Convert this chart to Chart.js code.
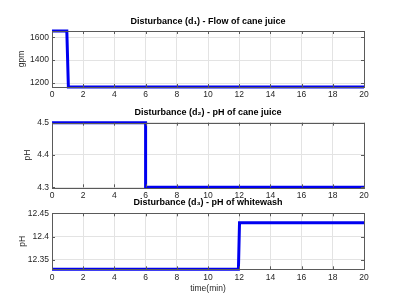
<!DOCTYPE html>
<html>
<head>
<meta charset="utf-8">
<script src="https://cdn.jsdelivr.net/npm/chart.js@4.4.1/dist/chart.umd.min.js"></script>
<style>
  html, body { margin: 0; padding: 0; background: #fff; }
  body { width: 403px; height: 302px; position: relative; overflow: hidden; }
  canvas { position: absolute; left: 0; }
</style>
</head>
<body>
<canvas id="c1" width="403" height="100" style="top:0px"></canvas>
<canvas id="c2" width="403" height="100" style="top:100px"></canvas>
<canvas id="c3" width="403" height="112" style="top:190px"></canvas>
<script>
// data
const xTicks = [0, 2, 4, 6, 8, 10, 12, 14, 16, 18, 20];

const time1 = [0, 0.95, 1.05, 20];
const flowCane = [1655, 1655, 1165, 1165];
const yTicks1 = [1200, 1400, 1600];

const time2 = [0, 6, 6, 20];
const phCane = [4.5, 4.5, 4.3, 4.3];
const yTicks2 = [4.3, 4.4, 4.5];

const time3 = [0, 11.95, 12.02, 20];
const phWhite = [12.33, 12.33, 12.43, 12.43];
const yTicks3 = [12.35, 12.4, 12.45];

const FONT = "'Liberation Sans', Arial, sans-serif";
Chart.defaults.font.family = FONT;
Chart.defaults.color = '#262626';

// box around the axes + inward tick marks, matlab style
const boxPlugin = {
    id: 'box',
    afterDraw(chart) {
        const { ctx, chartArea: a, scales } = chart;
        ctx.save();
        ctx.strokeStyle = '#5a5a5a';
        ctx.lineWidth = 1;
        ctx.strokeRect(Math.round(a.left) + 0.5, Math.round(a.top) + 0.5,
            Math.round(a.right - a.left), Math.round(a.bottom - a.top));
        ctx.beginPath();
        scales.x.ticks.forEach(t => {
            const px = Math.round(scales.x.getPixelForValue(t.value)) + 0.5;
            ctx.moveTo(px, a.bottom); ctx.lineTo(px, a.bottom - 3);
            ctx.moveTo(px, a.top); ctx.lineTo(px, a.top + 3);
        });
        scales.y.ticks.forEach(t => {
            const py = Math.round(scales.y.getPixelForValue(t.value)) + 0.5;
            ctx.moveTo(a.left, py); ctx.lineTo(a.left + 3, py);
            ctx.moveTo(a.right, py); ctx.lineTo(a.right - 3, py);
        });
        ctx.stroke();
        ctx.restore();
    }
};

function makePlot(id, xs, ys, yMin, yMax, yTicks, o) {
    const pts = xs.map((x, i) => ({ x: x, y: ys[i] }));
    return new Chart(document.getElementById(id), {
        type: 'line',
        data: {
            datasets: [{
                data: pts,
                borderColor: '#0000f0',
                borderWidth: 3,
                pointRadius: 0,
                fill: false,
                tension: 0,
                clip: 4
            }]
        },
        options: {
            responsive: false,
            animation: false,
            devicePixelRatio: 1,
            layout: { padding: { left: 0, right: 39, top: 0, bottom: 0 } },
            plugins: {
                legend: { display: false },
                tooltip: { enabled: false }
            },
            scales: {
                // top axis only carries the plot title, centred over the axes
                top: {
                    type: 'linear',
                    position: 'top',
                    min: 0, max: 20,
                    afterFit: s => { s.height = o.titleTop + 10.8 + o.titleBottom; s.paddingLeft = 0; s.paddingRight = 0; },
                    grid: { display: false },
                    border: { display: false },
                    ticks: { display: false },
                    title: {
                        display: true,
                        text: o.title,
                        color: '#000',
                        font: { size: 9, weight: 'bold' },
                        padding: { top: o.titleTop, bottom: 0 }
                    }
                },
                x: {
                    type: 'linear',
                    min: 0, max: 20,
                    afterBuildTicks: s => { s.ticks = xTicks.map(v => ({ value: v })); },
                    afterFit: s => { s.height = o.xHeight; s.paddingLeft = 0; s.paddingRight = 0; },
                    grid: { color: '#e3e3e3', drawTicks: false },
                    border: { display: false },
                    ticks: { padding: 3, font: { size: 8.5 }, callback: v => String(v), maxRotation: 0 },
                    title: {
                        display: !!o.xTitle,
                        text: o.xTitle || '',
                        font: { size: 8.5 },
                        padding: { top: 0, bottom: 8 }
                    }
                },
                y: {
                    min: yMin, max: yMax,
                    afterBuildTicks: s => { s.ticks = yTicks.map(v => ({ value: v })); },
                    afterFit: s => { s.width = 52; s.paddingTop = 0; s.paddingBottom = 0; },
                    grid: { color: '#e3e3e3', drawTicks: false },
                    border: { display: false },
                    ticks: { padding: 3, font: { size: 8.5 }, callback: v => String(v) },
                    title: {
                        display: true,
                        text: o.yTitle,
                        font: { size: 8.5 },
                        padding: { top: o.yTitleOff, bottom: 0 }
                    }
                }
            }
        },
        plugins: [boxPlugin]
    });
}

makePlot('c1', time1, flowCane, 1165, 1655, yTicks1, {
    title: 'Disturbance (d\u2081) - Flow of cane juice',
    titleTop: 16.6, titleBottom: 3.6, xHeight: 13, yTitle: 'gpm', yTitleOff: 17
});
makePlot('c2', time2, phCane, 4.3, 4.5, yTicks2, {
    title: 'Disturbance (d\u2082) - pH of cane juice',
    titleTop: 7.6, titleBottom: 4.3, xHeight: 12.7, yTitle: 'pH', yTitleOff: 23
});
makePlot('c3', time3, phWhite, 12.33, 12.45, yTicks3, {
    title: 'Disturbance (d\u2083) - pH of whitewash',
    titleTop: 7.6, titleBottom: 4.9, xHeight: 32.7, yTitle: 'pH', yTitleOff: 18,
    xTitle: 'time(min)'
});
</script>
</body>
</html>
